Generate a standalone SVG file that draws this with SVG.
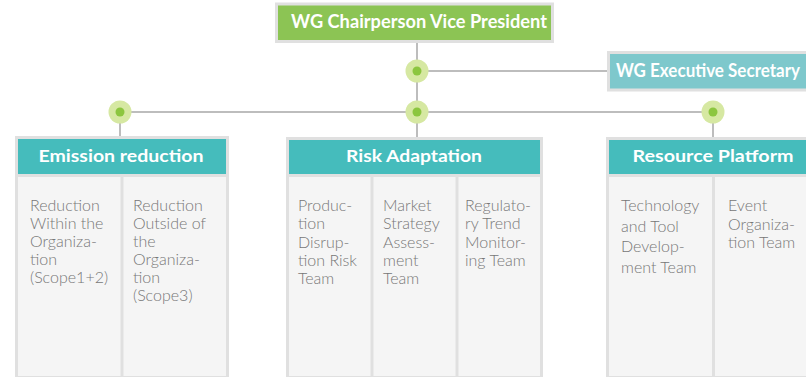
<svg xmlns="http://www.w3.org/2000/svg" width="806" height="377" viewBox="0 0 806 377">
<style>
.conn{stroke:#bdbdbd;stroke-width:2;fill:none}
.dot-o{fill:#d6e8a2}
.dot-i{fill:#8cc63f}
.box{fill:#f5f5f5;stroke:#e0e0e0;stroke-width:3}
.head{fill:#45bcbc}
.div{stroke:#e0e0e0;stroke-width:3}
.ttl{font-family:Lato,"Liberation Sans",sans-serif;font-weight:700;fill:#ffffff;font-size:17px}
.txt{font-family:Lato,"Liberation Sans",sans-serif;font-weight:300;fill:#777777;font-size:16px}
</style>
<rect width="806" height="377" fill="#ffffff"/>
<g id="connectors">
<line class="conn" x1="417" y1="42" x2="417" y2="138"/>
<line class="conn" x1="417" y1="71" x2="608" y2="71"/>
<line class="conn" x1="120" y1="112" x2="713" y2="112"/>
<line class="conn" x1="120" y1="112" x2="120" y2="137"/>
<line class="conn" x1="713" y1="112" x2="713" y2="138"/>
<circle class="dot-o" cx="417" cy="71" r="11.5"/><circle class="dot-i" cx="417" cy="71" r="4.5"/>
<circle class="dot-o" cx="120" cy="112" r="11.5"/><circle class="dot-i" cx="120" cy="112" r="4.5"/>
<circle class="dot-o" cx="417" cy="112" r="11.5"/><circle class="dot-i" cx="417" cy="112" r="4.5"/>
<circle class="dot-o" cx="713" cy="112" r="11.5"/><circle class="dot-i" cx="713" cy="112" r="4.5"/>
</g>
<g id="chair">
<rect x="276.5" y="4" width="276" height="37.5" fill="#8cc454" stroke="#e0e0e0" stroke-width="3"/>
<text class="ttl" x="291" y="28" style="font-size:18px" textLength="256" lengthAdjust="spacingAndGlyphs">WG Chairperson Vice President</text>
</g>
<g id="secretary">
<rect x="608.5" y="52.5" width="230" height="37.5" fill="#7ec8cc" stroke="#e0e0e0" stroke-width="3"/>
<text class="ttl" x="616" y="77" style="font-size:18px" textLength="184" lengthAdjust="spacingAndGlyphs">WG Executive Secretary</text>
</g>
<g id="emission">
<rect class="box" x="16.5" y="137.5" width="211" height="240"/>
<rect class="head" x="18" y="139" width="208" height="35"/>
<line class="div" x1="16.5" y1="175.5" x2="227.5" y2="175.5"/>
<line class="div" x1="122" y1="175" x2="122" y2="377"/>
<text class="ttl" x="38.5" y="162" textLength="165" lengthAdjust="spacingAndGlyphs">Emission reduction</text>
<text class="txt" x="30" y="211"><tspan x="30">Reduction</tspan><tspan x="30" dy="18">Within the</tspan><tspan x="30" dy="18">Organiza-</tspan><tspan x="30" dy="18">tion</tspan><tspan x="30" dy="18">(Scope1+2)</tspan></text>
<text class="txt" x="133" y="211"><tspan x="133">Reduction</tspan><tspan x="133" dy="18">Outside of</tspan><tspan x="133" dy="18">the</tspan><tspan x="133" dy="18">Organiza-</tspan><tspan x="133" dy="18">tion</tspan><tspan x="133" dy="18">(Scope3)</tspan></text>
</g>
<g id="risk">
<rect class="box" x="287.5" y="138.5" width="254" height="239"/>
<rect class="head" x="289" y="140" width="251" height="34"/>
<line class="div" x1="287.5" y1="175.5" x2="541.5" y2="175.5"/>
<line class="div" x1="372" y1="175" x2="372" y2="377"/>
<line class="div" x1="457" y1="175" x2="457" y2="377"/>
<text class="ttl" x="346" y="162" textLength="136" lengthAdjust="spacingAndGlyphs">Risk Adaptation</text>
<text class="txt" x="298" y="211"><tspan x="298">Produc-</tspan><tspan x="298" dy="18.3">tion</tspan><tspan x="298" dy="18.3">Disrup-</tspan><tspan x="298" dy="18.3">tion Risk</tspan><tspan x="298" dy="18.3">Team</tspan></text>
<text class="txt" x="383" y="211"><tspan x="383">Market</tspan><tspan x="383" dy="18.3">Strategy</tspan><tspan x="383" dy="18.3">Assess-</tspan><tspan x="383" dy="18.3">ment</tspan><tspan x="383" dy="18.3">Team</tspan></text>
<text class="txt" x="465" y="211"><tspan x="465">Regulato-</tspan><tspan x="465" dy="18.3">ry Trend</tspan><tspan x="465" dy="18.3">Monitor-</tspan><tspan x="465" dy="18.3">ing Team</tspan></text>
</g>
<g id="resource">
<rect class="box" x="607.5" y="138.5" width="212" height="239"/>
<rect class="head" x="609" y="140" width="209" height="34"/>
<line class="div" x1="607.5" y1="175.5" x2="819.5" y2="175.5"/>
<line class="div" x1="713.5" y1="175" x2="713.5" y2="377"/>
<text class="ttl" x="632.5" y="162" textLength="161" lengthAdjust="spacingAndGlyphs">Resource Platform</text>
<text class="txt" x="621" y="211"><tspan x="621">Technology</tspan><tspan x="621" dy="20.5">and Tool</tspan><tspan x="621" dy="20.5">Develop-</tspan><tspan x="621" dy="20.5">ment Team</tspan></text>
<text class="txt" x="728" y="211"><tspan x="728">Event</tspan><tspan x="728" dy="18.5">Organiza-</tspan><tspan x="728" dy="18.5">tion Team</tspan></text>
</g>
</svg>
